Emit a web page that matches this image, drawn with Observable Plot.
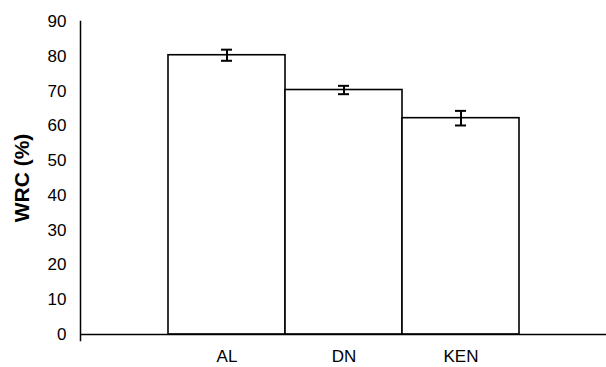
<!DOCTYPE html>
<html>
<head>
<meta charset="utf-8">
<script src="https://cdn.jsdelivr.net/npm/d3@7"></script>
<script src="https://cdn.jsdelivr.net/npm/@observablehq/plot@0.6"></script>
<style>
  html, body { margin: 0; padding: 0; background: #fff; }
  #chart svg { display: block; }
  #chart svg text { font-size: 17px; fill: #000; }
  #chart svg [aria-label='y-axis label'] text { font-weight: bold; font-size: 21px; }
</style>
</head>
<body>
<div id="chart"></div>
<script>
const categories = ["AL", "DN", "KEN"];
const values = [80.3, 70.3, 62.2];
const errors = [1.6, 1.2, 2.1];
const yTicks = [0, 10, 20, 30, 40, 50, 60, 70, 80, 90];
const yLabel = "WRC (%)";

const data = categories.map((c, i) => ({cat: c, v: values[i], e: errors[i]}));

const chart = Plot.plot({
  width: 606,
  height: 367,
  marginLeft: 80,
  marginRight: 0,
  marginTop: 21,
  marginBottom: 33,
  style: {fontFamily: "'Liberation Sans', Arial, sans-serif", fontSize: "17px", color: "#000", background: "#fff"},
  x: {domain: categories, paddingInner: 0, paddingOuter: 0.738, align: 0.5},
  y: {domain: [0, 90]},
  marks: [
    Plot.barY(data, {x: "cat", y: "v", fill: "white", stroke: "black", strokeWidth: 1.6, inset: 0}),
    Plot.ruleY([0], {stroke: "black", strokeWidth: 1.5}),
    Plot.frame({anchor: "left", stroke: "black", strokeWidth: 1.5, insetBottom: -6}),
    Plot.ruleX(data, {x: "cat", y1: d => d.v - d.e, y2: d => d.v + d.e, stroke: "black", strokeWidth: 2}),
    Plot.tickY(data, {x: "cat", y: d => d.v - d.e, stroke: "black", strokeWidth: 2, insetLeft: 53, insetRight: 53}),
    Plot.tickY(data, {x: "cat", y: d => d.v + d.e, stroke: "black", strokeWidth: 2, insetLeft: 53, insetRight: 53}),
    Plot.axisY({ticks: yTicks, tickSize: 6, tickPadding: 8, tickFormat: d => String(d),
      label: yLabel, labelAnchor: "center", labelArrow: "none", labelOffset: 66,
      stroke: null}),
    Plot.axisX({tickSize: 0, tickPadding: 15, label: null})
  ]
});

document.getElementById("chart").appendChild(chart);
</script>
</body>
</html>
